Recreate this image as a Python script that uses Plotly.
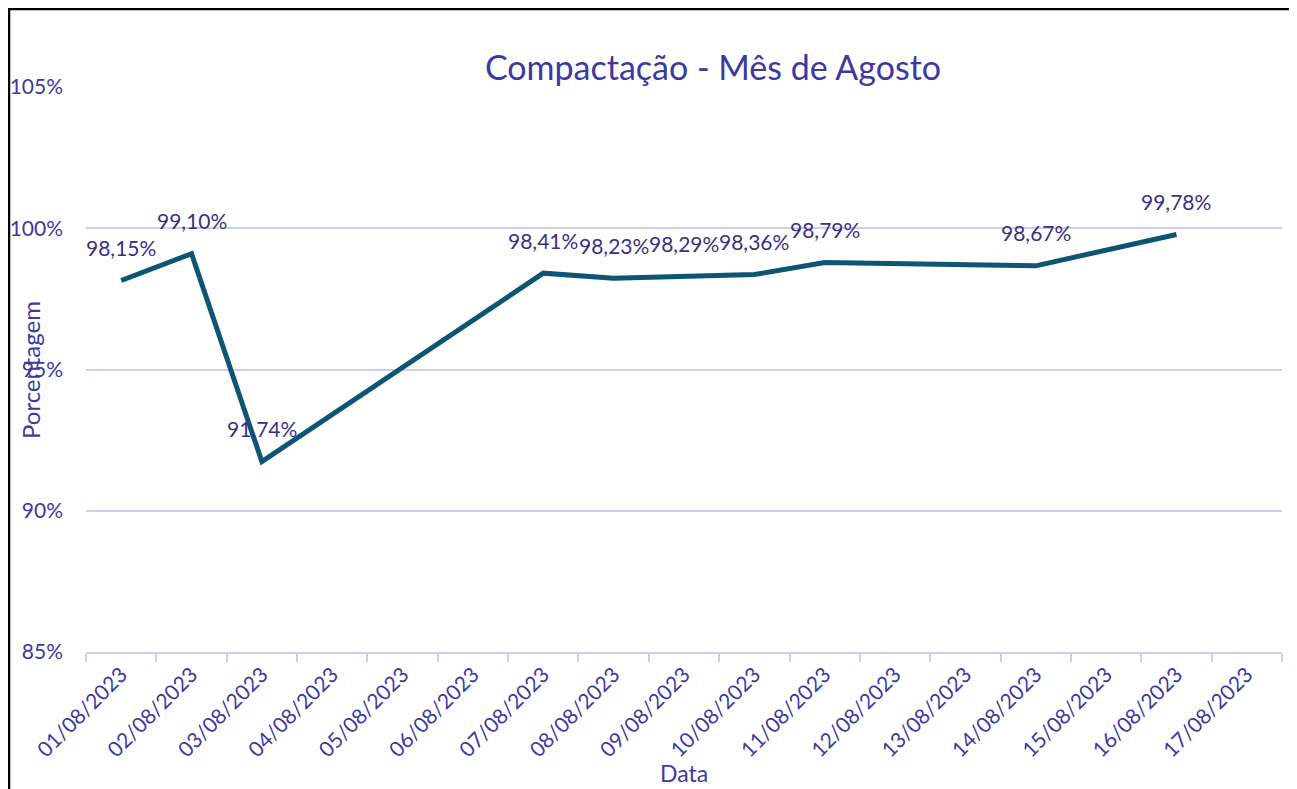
import plotly.graph_objects as go

dates = ["01/08/2023", "02/08/2023", "03/08/2023", "04/08/2023", "05/08/2023",
         "06/08/2023", "07/08/2023", "08/08/2023", "09/08/2023", "10/08/2023",
         "11/08/2023", "12/08/2023", "13/08/2023", "14/08/2023", "15/08/2023",
         "16/08/2023", "17/08/2023"]
values = [98.15, 99.10, 91.74, None, None,
          None, 98.41, 98.23, 98.29, 98.36,
          98.79, None, None, 98.67, None,
          99.78, None]
labels = ["98,15%", "99,10%", "91,74%", None, None,
          None, "98,41%", "98,23%", "98,29%", "98,36%",
          "98,79%", None, None, "98,67%", None,
          "99,78%", None]
y_ticks = [85, 90, 95, 100, 105]
y_tick_text = ["85%", "90%", "95%", "100%", "105%"]

title_text = "Compactação - Mês de Agosto"
x_title = "Data"
y_title = "Porcentagem"

FONT = "Lato, Carlito, 'Open Sans', sans-serif"
TXT = "#3D38A2"
LBL = "#3A2F88"
GRID = "#D0CCEE"
LINE = "#0D5475"

# figure geometry (page body adds an 8px offset)
W, H = 1289, 781
L, T, PW, PH = 78, 79, 1196, 565
B = H - T - PH
R = W - L - PW


def px(xp):
    return (xp - L) / PW


def py(yp):
    return (T + PH - yp) / PH


fig = go.Figure()
fig.add_trace(go.Scatter(
    x=dates, y=values, mode="lines", connectgaps=True,
    line=dict(color=LINE, width=5, shape="linear"),
    hoverinfo="skip", showlegend=False,
))

for d, v, t in zip(dates, values, labels):
    if v is None:
        continue
    fig.add_annotation(x=d, y=v, text=t, showarrow=False, yshift=33,
                       xanchor="center", yanchor="middle",
                       font=dict(family=FONT, size=21, color=LBL))

# axis titles
fig.add_annotation(xref="paper", yref="paper", x=px(22), y=py(362),
                   text=y_title, textangle=-90, showarrow=False,
                   xanchor="center", yanchor="middle",
                   font=dict(family=FONT, size=24, color=TXT))
fig.add_annotation(xref="paper", yref="paper", x=0.5, y=py(765),
                   text=x_title, showarrow=False,
                   xanchor="center", yanchor="middle",
                   font=dict(family=FONT, size=23, color=TXT))

# outer frame (left and top edges visible in the reference crop)
fig.add_shape(type="line", xref="paper", yref="paper",
              x0=px(1), x1=px(1), y0=py(0), y1=py(H + 5),
              line=dict(color="black", width=2.5))
fig.add_shape(type="line", xref="paper", yref="paper",
              x0=px(0), x1=px(W + 5), y0=py(1), y1=py(1),
              line=dict(color="black", width=2.5))

fig.update_layout(
    width=W, height=H,
    margin=dict(l=L, r=R, t=T, b=B, pad=0),
    paper_bgcolor="white", plot_bgcolor="white",
    title=dict(text=title_text, x=705 / W, xanchor="center",
               y=1 - 60 / H, yanchor="middle",
               font=dict(family=FONT, size=34, color=TXT)),
    font=dict(family=FONT, color=TXT),
)
fig.update_xaxes(
    type="category", categoryorder="array", categoryarray=dates,
    range=[-0.5, len(dates) - 0.5], automargin=False,
    tickangle=-45, tickson="boundaries", ticks="outside", ticklen=8,
    tickcolor=GRID, tickwidth=2,
    showline=True, linecolor=GRID, linewidth=2,
    showgrid=False, zeroline=False,
    tickfont=dict(family=FONT, size=21, color=TXT),
)
fig.update_yaxes(
    range=[85, 105], tickvals=y_ticks, ticktext=y_tick_text,
    automargin=False,
    showgrid=True, gridcolor=GRID, gridwidth=2,
    zeroline=False, showline=False, ticks="",
    ticklabelstandoff=22,
    tickfont=dict(family=FONT, size=21, color=TXT),
)

fig.write_html("out.html")
